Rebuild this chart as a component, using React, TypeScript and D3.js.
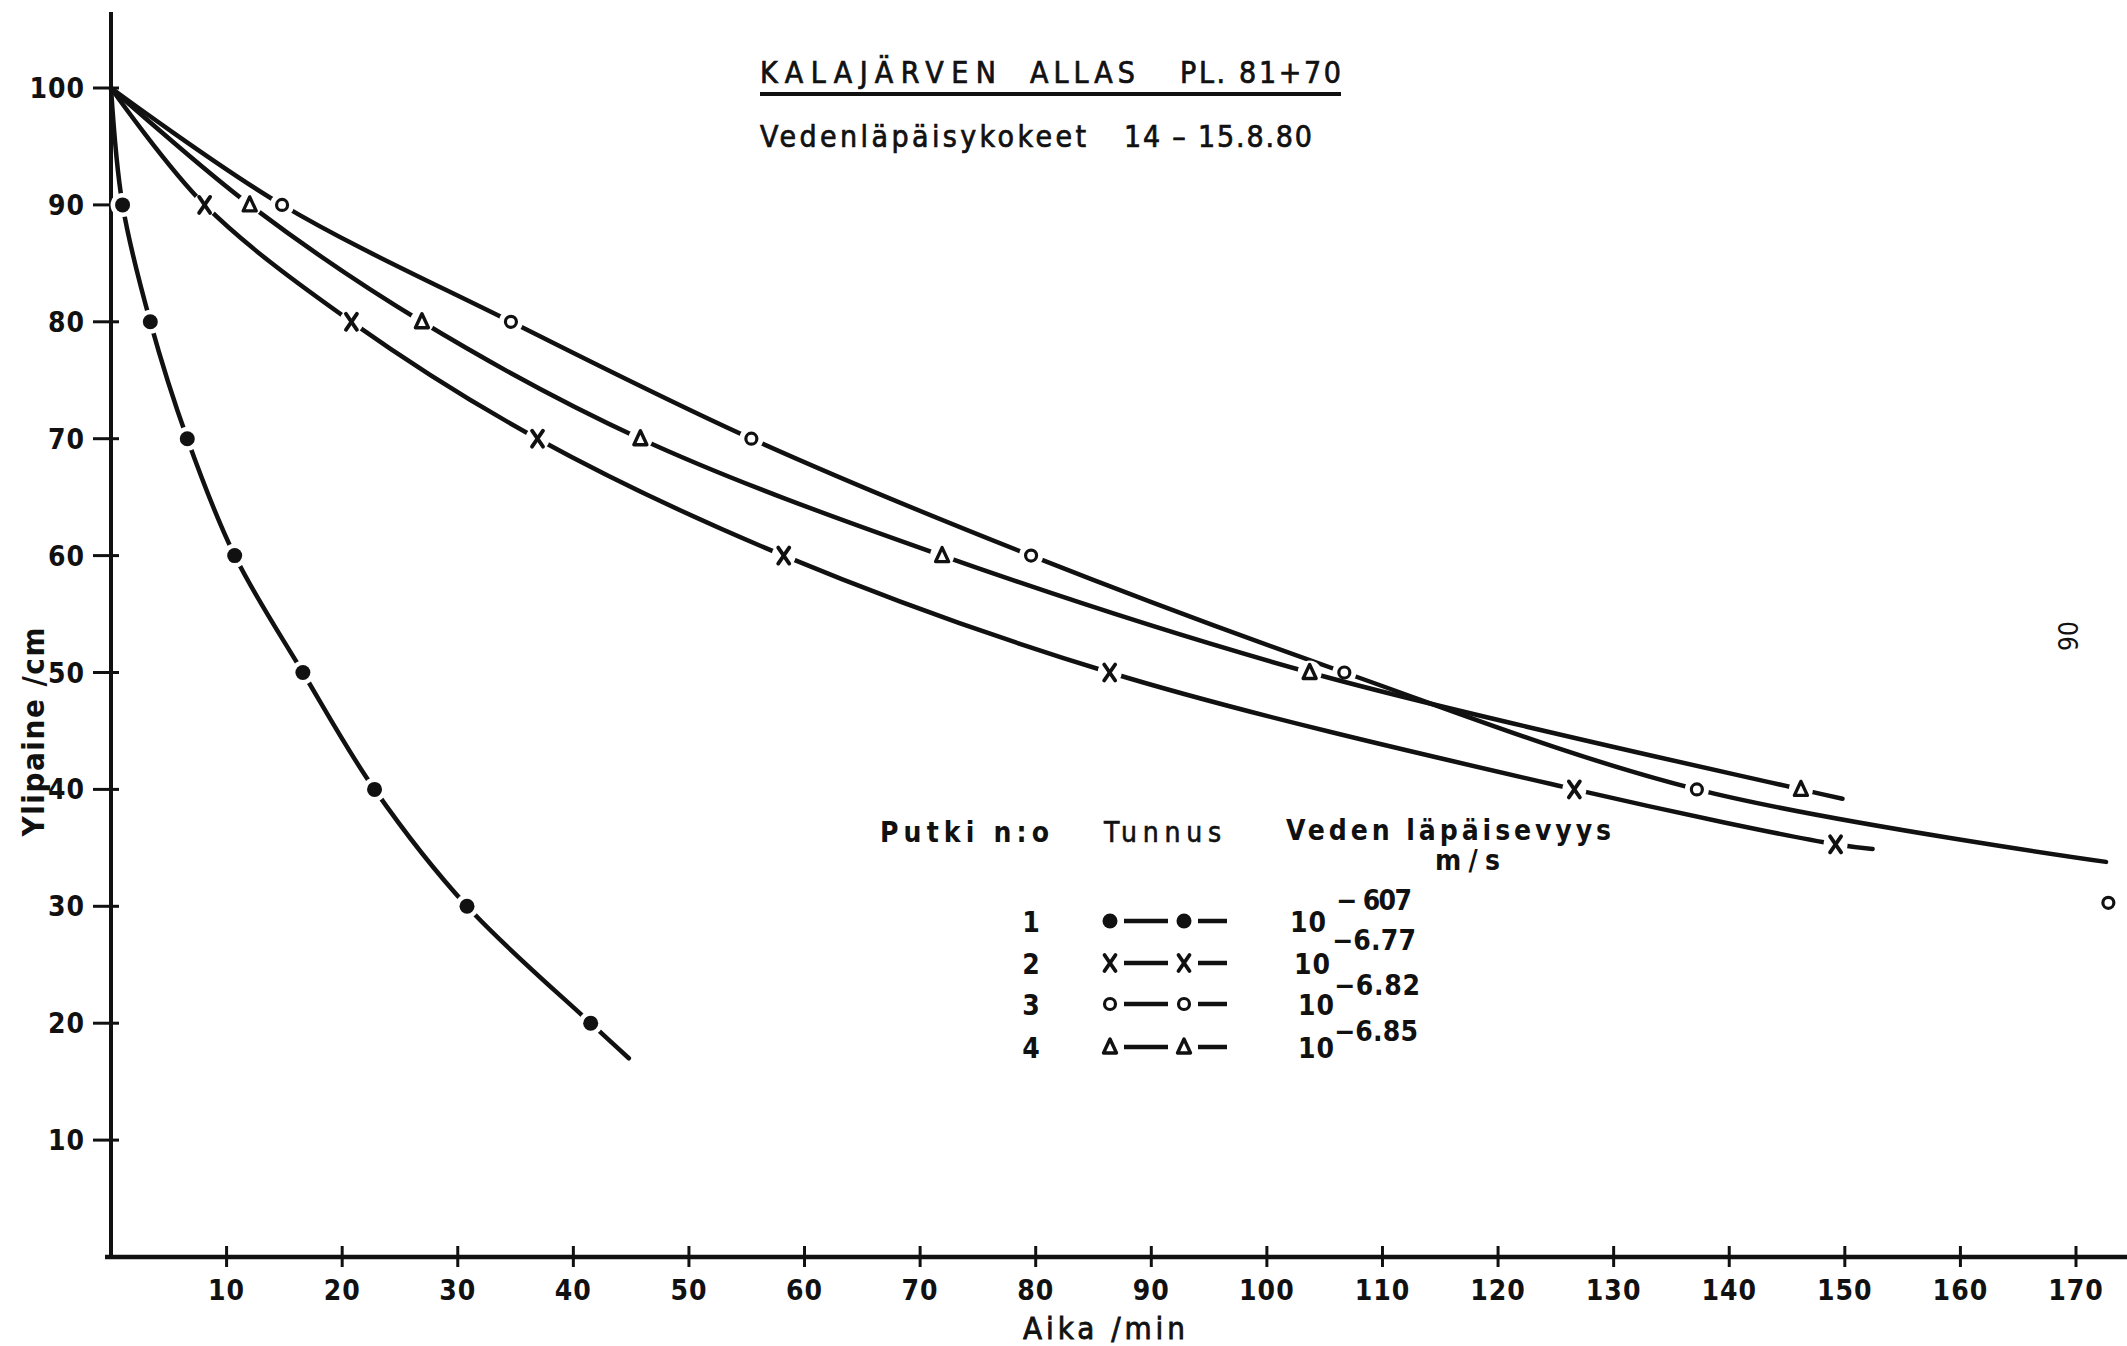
import React from "react";
import * as d3 from "d3";

// ---- data ----
const xTickValues = [10, 20, 30, 40, 50, 60, 70, 80, 90, 100, 110, 120, 130, 140, 150, 160, 170];
const yTickValues = [10, 20, 30, 40, 50, 60, 70, 80, 90, 100];

// Putki 1 (filled dots)
const tube1Time = [0, 1.0, 3.4, 6.6, 10.7, 16.6, 22.8, 30.8, 41.5];
const tube1Head = [100, 90, 80, 70, 60, 50, 40, 30, 20];
const tube1CurveEnd = [44.8, 17.0];

// Putki 2 (crosses)
const tube2Time = [0, 8.1, 20.8, 36.9, 58.2, 86.4, 126.6, 149.2];
const tube2Head = [100, 90, 80, 70, 60, 50, 40, 35.3];
const tube2CurveEnd = [152.4, 34.9];

// Putki 3 (open circles)
const tube3Time = [0, 14.8, 34.6, 55.4, 79.6, 106.7, 137.2];
const tube3Head = [100, 90, 80, 70, 60, 50, 40];
const tube3CurveEnd = [172.6, 33.8];
const tube3Extra = [172.8, 30.3];

// Putki 4 (triangles)
const tube4Time = [0, 12.0, 26.9, 45.8, 71.9, 103.7, 146.2];
const tube4Head = [100, 90, 80, 70, 60, 50, 40];
const tube4CurveEnd = [149.8, 39.2];

const legendTubes = ["1", "2", "3", "4"];
const legendSymbols = ["dot", "cross", "circle", "triangle"];
const legendExponents = ["− 607", "−6.77", "−6.82", "−6.85"];

const titleWords = ["KALAJÄRVEN", "ALLAS", "PL. 81+70"];
const subtitleWords = ["Vedenläpäisykokeet", "14 – 15.8.80"];

// ---- layout ----
const W = 2127;
const H = 1346;
const FONT = "'DejaVu Sans Condensed', 'DejaVu Sans', sans-serif";
const INK = "#111";

const x = d3.scaleLinear().domain([0, 170]).range([111, 2076]);
const y = d3.scaleLinear().domain([0, 100]).range([1257, 88]);

type Sym = "dot" | "cross" | "circle" | "triangle";

function Marker({ cx, cy, kind, scale = 1 }: { cx: number; cy: number; kind: Sym; scale?: number }) {
  const s = scale;
  if (kind === "dot") return <circle cx={cx} cy={cy} r={7.5 * s} fill={INK} />;
  if (kind === "circle")
    return <circle cx={cx} cy={cy} r={5.5 * s} fill="none" stroke={INK} strokeWidth={3.2} />;
  if (kind === "cross") {
    const a = 5.5 * s;
    const b = 8 * s;
    return (
      <g stroke={INK} strokeWidth={3.8} strokeLinecap="round">
        <line x1={cx - a} y1={cy - b} x2={cx + a} y2={cy + b} />
        <line x1={cx + a} y1={cy - b} x2={cx - a} y2={cy + b} />
      </g>
    );
  }
  const h = 8 * s;
  const w = 6.5 * s;
  return (
    <path
      d={`M${cx},${cy - h} L${cx + w},${cy + h * 0.75} L${cx - w},${cy + h * 0.75} Z`}
      fill="none"
      stroke={INK}
      strokeWidth={3.4}
      strokeLinejoin="round"
    />
  );
}

const line = d3
  .line<[number, number]>()
  .x((d) => x(d[0]))
  .y((d) => y(d[1]))
  .curve(d3.curveCatmullRom.alpha(0.5));

function Series({ t, h, end, kind }: { t: number[]; h: number[]; end: number[]; kind: Sym }) {
  const pts: [number, number][] = t.map((v, i) => [v, h[i]] as [number, number]);
  pts.push([end[0], end[1]]);
  const marks = pts.slice(1, t.length);
  return (
    <g>
      <path d={line(pts) || ""} fill="none" stroke={INK} strokeWidth={4.5} strokeLinecap="round" />
      {marks.map((p, i) => (
        <circle key={"h" + i} cx={x(p[0])} cy={y(p[1])} r={12} fill="#fff" />
      ))}
      {marks.map((p, i) => (
        <Marker key={"m" + i} cx={x(p[0])} cy={y(p[1])} kind={kind} />
      ))}
    </g>
  );
}

export default function App() {
  const rowBase = [932, 974, 1015, 1058];
  const expBase = [910, 950, 995, 1041];
  const tenX = [1290, 1294, 1298, 1298];
  const expX = [1336, 1332, 1334, 1334];
  const expLen = [76, 84, 86, 84];
  return (
    <svg
      width={W}
      height={H}
      viewBox={`0 0 ${W} ${H}`}
      style={{ position: "absolute", left: 0, top: 0, background: "#fff" }}
      fontFamily={FONT}
    >
      <rect x={0} y={0} width={W} height={H} fill="#fff" />

      {/* Title */}
      <g fill={INK} stroke={INK} strokeWidth={0.7} fontSize={30}>
        <text x={760} y={83} textLength={236} lengthAdjust="spacing">{titleWords[0]}</text>
        <text x={1030} y={83} textLength={105} lengthAdjust="spacing">{titleWords[1]}</text>
        <text x={1180} y={83} textLength={161} lengthAdjust="spacing">{titleWords[2]}</text>
        <line x1={760} x2={1341} y1={94} y2={94} stroke={INK} strokeWidth={4} />
        <text x={760} y={147} textLength={326} lengthAdjust="spacing">{subtitleWords[0]}</text>
        <text x={1124} y={147} textLength={188} lengthAdjust="spacing">{subtitleWords[1]}</text>
      </g>

      {/* Axes */}
      <line x1={x(0)} x2={x(0)} y1={12} y2={y(0) + 2} stroke={INK} strokeWidth={4} />
      <line x1={x(0) - 6} x2={W} y1={y(0)} y2={y(0)} stroke={INK} strokeWidth={4.5} />
      {yTickValues.map((v) => (
        <g key={"yt" + v}>
          <line x1={x(0) - 18} x2={x(0) + 8} y1={y(v)} y2={y(v)} stroke={INK} strokeWidth={3} />
          <text
            x={x(0) - 26}
            y={y(v) + 10}
            textAnchor="end"
            fontSize={28}
            fontWeight="bold"
            letterSpacing={1}
            fill={INK}
          >
            {v}
          </text>
        </g>
      ))}
      {xTickValues.map((v) => (
        <g key={"xt" + v}>
          <line x1={x(v)} x2={x(v)} y1={y(0) - 11} y2={y(0) + 10} stroke={INK} strokeWidth={3} />
          <text x={x(v)} y={1300} textAnchor="middle" fontSize={28} fontWeight="bold" letterSpacing={1} fill={INK}>
            {v}
          </text>
        </g>
      ))}
      <text
        x={1104}
        y={1339}
        textAnchor="middle"
        fontSize={31}
        fill={INK}
        stroke={INK}
        strokeWidth={0.8}
        textLength={162}
        lengthAdjust="spacing"
      >
        Aika /min
      </text>
      <text
        transform={`translate(44, 732) rotate(-90)`}
        textAnchor="middle"
        fontSize={31}
        fontWeight="bold"
        fill={INK}
        textLength={209}
        lengthAdjust="spacing"
      >
        Ylipaine /cm
      </text>

      {/* Curves */}
      <Series t={tube1Time} h={tube1Head} end={tube1CurveEnd} kind="dot" />
      <Series t={tube2Time} h={tube2Head} end={tube2CurveEnd} kind="cross" />
      <Series t={tube3Time} h={tube3Head} end={tube3CurveEnd} kind="circle" />
      <Series t={tube4Time} h={tube4Head} end={tube4CurveEnd} kind="triangle" />
      <Marker cx={x(tube3Extra[0])} cy={y(tube3Extra[1])} kind="circle" />

      {/* Legend */}
      <g fill={INK} fontSize={28} fontWeight="bold">
        <text x={880} y={842} textLength={169} lengthAdjust="spacing">Putki n:o</text>
        <text
          x={1104}
          y={842}
          textLength={117}
          lengthAdjust="spacing"
          fontWeight="normal"
          stroke={INK}
          strokeWidth={0.6}
        >
          Tunnus
        </text>
        <text x={1286} y={840} textLength={325} lengthAdjust="spacing">Veden läpäisevyys</text>
        <text x={1435} y={870} textLength={65} lengthAdjust="spacing">m/s</text>
        {legendTubes.map((n, i) => (
          <g key={"lg" + i}>
            <text x={1031} y={rowBase[i]} textAnchor="middle">{n}</text>
            <Marker cx={1110} cy={rowBase[i] - 11} kind={legendSymbols[i] as Sym} />
            <line x1={1124} x2={1168} y1={rowBase[i] - 11} y2={rowBase[i] - 11} stroke={INK} strokeWidth={4.5} />
            <Marker cx={1184} cy={rowBase[i] - 11} kind={legendSymbols[i] as Sym} />
            <line x1={1198} x2={1227} y1={rowBase[i] - 11} y2={rowBase[i] - 11} stroke={INK} strokeWidth={4.5} />
            <text x={tenX[i]} y={rowBase[i]} textLength={36} lengthAdjust="spacing">10</text>
            <text x={expX[i]} y={expBase[i]} textLength={expLen[i]} lengthAdjust="spacing">
              {legendExponents[i]}
            </text>
          </g>
        ))}
      </g>

      {/* page mark */}
      <text transform="translate(2078, 636) rotate(-90)" textAnchor="middle" fontSize={26} fill={INK}>
        90
      </text>
    </svg>
  );
}
